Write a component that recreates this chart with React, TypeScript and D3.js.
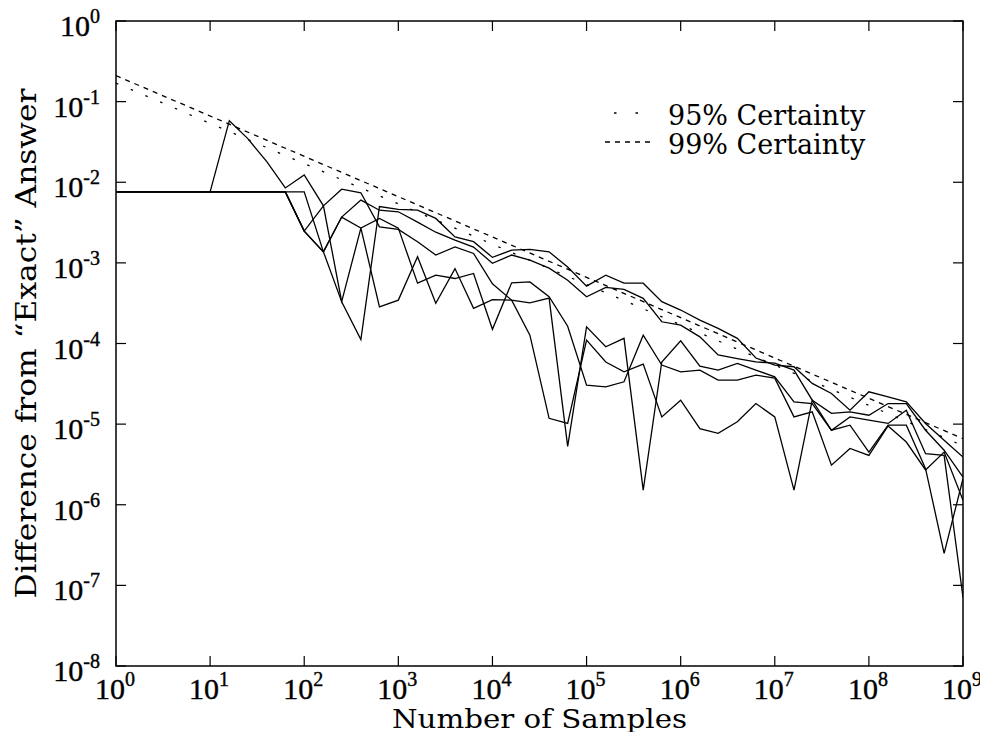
import React, { useEffect, useRef } from "react"
import * as d3 from "d3"

// number of samples at which each run was checked
const samples = [1, 1.6, 2.5, 4, 6.3, 10, 16, 25, 40, 63, 100, 160, 250, 400, 630,
    1e3, 1.6e3, 2.5e3, 4e3, 6.3e3, 1e4, 1.6e4, 2.5e4, 4e4, 6.3e4, 1e5, 1.6e5, 2.5e5, 4e5, 6.3e5,
    1e6, 1.6e6, 2.5e6, 4e6, 6.3e6, 1e7, 1.6e7, 2.5e7, 4e7, 6.3e7, 1e8, 1.6e8, 2.5e8, 4e8, 6.3e8, 1e9]

const run1 = [7.6e-3, 7.6e-3, 7.6e-3, 7.6e-3, 7.6e-3, 7.6e-3, 5.8e-2, 3.5e-2, 1.8e-2, 8.5e-3,
    1.23e-2, 5.1e-3, 3.3e-4, 1.12e-4, 5.0e-3, 4.6e-3, 4.5e-3, 3.56e-3, 2.1e-3, 1.83e-3,
    1.17e-3, 1.44e-3, 1.47e-3, 1.37e-3, 8.9e-4, 5.15e-4, 7.05e-4, 5.6e-4, 5.6e-4, 3.3e-4,
    2.6e-4, 1.95e-4, 1.54e-4, 1.16e-4, 6.6e-5, 5.4e-5, 5.15e-5, 3.2e-5, 2.4e-5, 1.49e-5,
    2.52e-5, 2.18e-5, 1.89e-5, 1.02e-5, 6.3e-6, 3.9e-6]
const run2 = [7.6e-3, 7.6e-3, 7.6e-3, 7.6e-3, 7.6e-3, 7.6e-3, 7.6e-3, 7.6e-3, 7.6e-3, 7.6e-3,
    2.48e-3, 5.1e-3, 8.2e-3, 7.4e-3, 2.8e-3, 2.6e-3, 1.83e-3, 1.25e-3, 1.58e-3, 1.31e-3,
    5.5e-4, 3.45e-4, 3.2e-4, 3.66e-4, 5.3e-6, 1.61e-4, 9.1e-5, 1.16e-4, 1.52e-6, 5.9e-5,
    1.08e-4, 5.24e-5, 4.68e-5, 5.66e-5, 4.68e-5, 3.86e-5, 1.89e-5, 1.8e-5, 8.4e-6, 1.23e-5,
    1.12e-5, 1.02e-5, 1.49e-5, 4.3e-6, 4.1e-6, 7.1e-8]
const run3 = [7.6e-3, 7.6e-3, 7.6e-3, 7.6e-3, 7.6e-3, 7.6e-3, 7.6e-3, 7.6e-3, 7.6e-3, 7.6e-3,
    7.6e-3, 1.37e-3, 3.3e-4, 2.7e-3, 2.85e-4, 3.45e-4, 1.19e-3, 3.15e-4, 8.5e-4, 2.73e-4,
    3.5e-4, 3.45e-4, 1.27e-4, 1.18e-5, 1.02e-5, 1.1e-4, 5.9e-5, 4.45e-5, 5.55e-5, 1.23e-5,
    1.98e-5, 8.8e-6, 7.7e-6, 1.07e-5, 1.8e-5, 1.23e-5, 1.52e-6, 1.98e-5, 8.4e-6, 9.7e-6,
    4.5e-6, 9.7e-6, 9.7e-6, 2.8e-6, 2.5e-7, 2.1e-6]
const run4 = [7.6e-3, 7.6e-3, 7.6e-3, 7.6e-3, 7.6e-3, 7.6e-3, 7.6e-3, 7.6e-3, 7.6e-3, 7.6e-3,
    2.48e-3, 1.37e-3, 3.7e-3, 2.7e-3, 3.56e-3, 2.7e-3, 5.6e-4, 7.05e-4, 6.4e-4, 7.4e-4,
    1.5e-4, 5.66e-4, 5.8e-4, 3.8e-4, 1.64e-4, 3.05e-5, 2.9e-5, 3.35e-5, 1.27e-4, 5.4e-5,
    4.45e-5, 4.68e-5, 3.51e-5, 3.51e-5, 4.05e-5, 3.72e-5, 1.23e-5, 1.42e-5, 3.1e-6, 5.0e-6,
    4.1e-6, 9.5e-6, 6.0e-6, 2.7e-6, 4.5e-6, 1.14e-6]
const run5 = [7.6e-3, 7.6e-3, 7.6e-3, 7.6e-3, 7.6e-3, 7.6e-3, 7.6e-3, 7.6e-3, 7.6e-3, 7.6e-3,
    2.48e-3, 1.37e-3, 3.7e-3, 6.0e-3, 4.5e-3, 4.3e-3, 3.2e-3, 2.4e-3, 1.92e-3, 1.57e-3,
    9.9e-4, 1.25e-3, 1.08e-3, 8.6e-4, 6.1e-4, 3.8e-4, 4.97e-4, 4.7e-4, 3.63e-4, 1.86e-4,
    1.69e-4, 1.21e-4, 7.2e-5, 6.5e-5, 5.9e-5, 5.7e-5, 4.68e-5, 1.98e-5, 1.36e-5, 1.42e-5,
    1.29e-5, 1.8e-5, 1.8e-5, 8.4e-6, 4.75e-6, 2.2e-6]

// end points of the two confidence bounds (straight on log-log axes)
const certainty95 = [[1, 0.17], [1e9, 5.4e-6]]
const certainty99 = [[1, 0.21], [1e9, 6.6e-6]]

const xTickExps = [0, 1, 2, 3, 4, 5, 6, 7, 8, 9]
const yTickExps = [0, -1, -2, -3, -4, -5, -6, -7, -8]

const serif = "'DejaVu Serif', serif"
const tickFont = "'Liberation Serif', serif"

function Chart() {
    const ref = useRef(null)

    useEffect(() => {
        const svg = d3.select(ref.current)
        svg.selectAll("*").remove()

        const left = 116, right = 963, top = 21, bottom = 666

        const x = d3.scaleLog().domain([1, 1e9]).range([left, right])
        const y = d3.scaleLog().domain([1e-8, 1]).range([bottom, top])

        svg.append("defs").append("clipPath").attr("id", "plotclip")
            .append("rect")
            .attr("x", left).attr("y", top)
            .attr("width", right - left).attr("height", bottom - top)

        const line = d3.line().x(d => x(d[0])).y(d => y(d[1]))

        const plot = svg.append("g").attr("clip-path", "url(#plotclip)")

        plot.append("path")
            .datum(certainty95)
            .attr("d", line)
            .attr("fill", "none")
            .attr("stroke", "#000")
            .attr("stroke-width", 1.3)
            .attr("stroke-dasharray", "2.5,13.5")

        plot.append("path")
            .datum(certainty99)
            .attr("d", line)
            .attr("fill", "none")
            .attr("stroke", "#000")
            .attr("stroke-width", 1.3)
            .attr("stroke-dasharray", "5,5")

        const runs = [run1, run2, run3, run4, run5]
        plot.selectAll(".run")
            .data(runs)
            .enter()
            .append("path")
            .attr("class", "run")
            .attr("d", r => line(r.map((v, i) => [samples[i], v])))
            .attr("fill", "none")
            .attr("stroke", "#000")
            .attr("stroke-width", 1.3)

        // frame with inward ticks on all four sides
        svg.append("rect")
            .attr("x", left).attr("y", top)
            .attr("width", right - left).attr("height", bottom - top)
            .attr("fill", "none")
            .attr("stroke", "#000")
            .attr("stroke-width", 1.5)

        const ticks = svg.append("g").attr("stroke", "#000").attr("stroke-width", 1.2)
        xTickExps.forEach(e => {
            const px = x(Math.pow(10, e))
            ticks.append("line").attr("x1", px).attr("x2", px).attr("y1", bottom).attr("y2", bottom - 10)
            ticks.append("line").attr("x1", px).attr("x2", px).attr("y1", top).attr("y2", top + 10)
        })
        yTickExps.forEach(e => {
            const py = y(Math.pow(10, e))
            ticks.append("line").attr("x1", left).attr("x2", left + 10).attr("y1", py).attr("y2", py)
            ticks.append("line").attr("x1", right).attr("x2", right - 10).attr("y1", py).attr("y2", py)
        })

        xTickExps.forEach(e => {
            const t = svg.append("text")
                .attr("x", x(Math.pow(10, e)) - 1)
                .attr("y", bottom + 33)
                .attr("text-anchor", "middle")
                .attr("font-family", tickFont)
                .attr("font-size", 30)
                .attr("stroke", "#000")
                .attr("stroke-width", 0.4)
            t.append("tspan").text("10")
            t.append("tspan").attr("dy", -13).attr("font-size", 20).text(e)
        })

        yTickExps.forEach(e => {
            const t = svg.append("text")
                .attr("x", left - 16)
                .attr("y", y(Math.pow(10, e)) + 15)
                .attr("text-anchor", "end")
                .attr("font-family", tickFont)
                .attr("font-size", 30)
                .attr("stroke", "#000")
                .attr("stroke-width", 0.4)
            t.append("tspan").text("10")
            t.append("tspan").attr("dy", -13).attr("font-size", 20).text(e === 0 ? "0" : "-" + (-e))
        })

        svg.append("text")
            .attr("x", (left + right) / 2)
            .attr("y", 728)
            .attr("text-anchor", "middle")
            .attr("font-family", serif)
            .attr("font-size", 26)
            .attr("textLength", 295)
            .attr("lengthAdjust", "spacingAndGlyphs")
            .text("Number of Samples")

        svg.append("text")
            .attr("transform", `translate(36,${(top + bottom) / 2}) rotate(-90)`)
            .attr("text-anchor", "middle")
            .attr("font-family", serif)
            .attr("font-size", 28)
            .attr("textLength", 510)
            .attr("lengthAdjust", "spacingAndGlyphs")
            .text("Difference from \u201cExact\u201d Answer")

        // legend
        const legend = [
            { label: "95% Certainty", dash: "2.5,19", x1: 614, x2: 642, y: 113 },
            { label: "99% Certainty", dash: "5,5", x1: 605, x2: 652, y: 142 }
        ]
        legend.forEach(l => {
            svg.append("line")
                .attr("x1", l.x1).attr("x2", l.x2)
                .attr("y1", l.y).attr("y2", l.y)
                .attr("stroke", "#000")
                .attr("stroke-width", 1.3)
                .attr("stroke-dasharray", l.dash)
            svg.append("text")
                .attr("x", 668)
                .attr("y", l.y + 12)
                .attr("font-family", serif)
                .attr("font-size", 27)
                .text(l.label)
        })
    }, [])

    return <svg ref={ref} width={988} height={740} style={{ display: "block" }} />
}

export default function App() {
    return (
        <div style={{ margin: -8, background: "#fff" }}>
            <Chart />
        </div>
    )
}
